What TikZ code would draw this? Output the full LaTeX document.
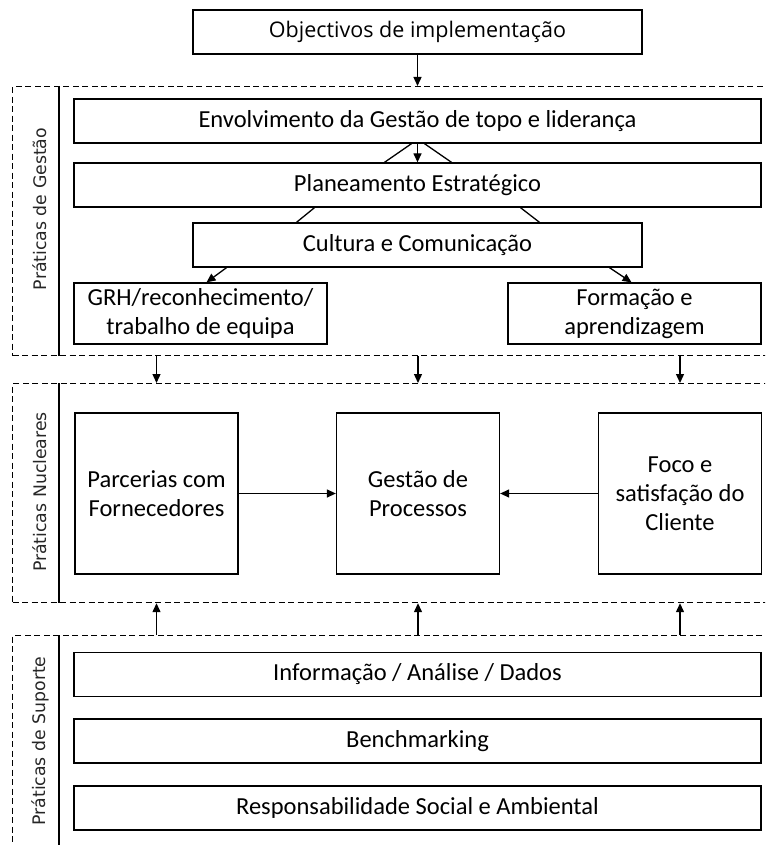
\documentclass[tikz,border=0pt]{standalone}
\usepackage{fontspec}
\setmainfont{Carlito}
\newfontfamily\topfont{Open Sans}
\newfontfamily\sidefont{DejaVu Sans}
\usetikzlibrary{arrows.meta,calc,positioning}
\tikzset{
    pq box/.style={
        draw,
        line width=1.3pt,
        fill=white,
        align=center,
        inner sep=2pt,
        font=\fontsize{24.5}{29}\selectfont
    },
    pq wide/.style={pq box, minimum width=687pt, minimum height=44pt},
    pq mid/.style={pq box, minimum width=449pt, minimum height=44pt},
    pq half/.style={pq box, minimum width=253pt, minimum height=61pt},
    pq core/.style={pq box, minimum width=163pt, minimum height=161pt},
    pq region/.style={
        draw,
        line width=1.2pt,
        dash pattern=on 6pt off 3.5pt,
        anchor=north west,
        minimum width=820pt,
        inner sep=0pt
    },
    pq side/.style={
        rotate=90,
        font=\sidefont\fontsize{17.3}{20}\selectfont,
        color=black!85
    },
    pq arrow/.style={-{Triangle[length=9pt,width=8pt]}, line width=1.3pt},
    pq line/.style={line width=1.3pt}
}

\begin{document}
\begin{tikzpicture}[x=1pt,y=-1pt]
    \useasboundingbox (0,0) rectangle (765,845);
    \clip (0,0) rectangle (765,845);

    % dashed groups
    \node[pq region, minimum height=269pt] (gestao) at (12,86) {};
    \node[pq region, minimum height=219pt] (nucl) at (12,383) {};
    \node[pq region, minimum height=240pt] (sup) at (12,635) {};
    \foreach \g in {gestao,nucl,sup} {
        \draw[pq line] ($(\g.north west)+(47,0)$) -- ($(\g.south west)+(47,0)$);
    }
    \node[pq side] (lgestao) at (40,209) {Práticas de Gestão};
    \node[pq side] (lnucl) at (40,492) {Práticas Nucleares};
    \node[pq side] (lsup) at (40,741) {Práticas de Suporte};

    \node[pq mid, font=\topfont\fontsize{21.5}{25}\selectfont] (obj) at (417.5,32) {Objectivos de implementação};

    % gestao
    \node[pq wide] (env) at (417.5,121) {Envolvimento da Gestão de topo e liderança};
    \node[pq wide] (plan) at (417.5,185) {Planeamento Estratégico};
    \node[pq mid] (cult) at (417.5,245) {Cultura e Comunicação};
    \node[pq half] (grh) at (200.5,313.5) {GRH/reconhecimento/\\trabalho de equipa};
    \node[pq half] (form) at (634.5,313.5) {Formação e\\aprendizagem};

    % nucleares
    \node[pq core] (parc) at (156.5,493.5) {Parcerias com\\Fornecedores};
    \node[pq core] (proc) at (418,493.5) {Gestão de\\Processos};
    \node[pq core] (foco) at (680,493.5) {Foco e\\satisfação do\\Cliente};

    % suporte
    \node[pq wide] (info) at (417.5,674.5) {Informação / Análise / Dados};
    \node[pq wide] (bench) at (417.5,741) {Benchmarking};
    \node[pq wide] (resp) at (417.5,808) {Responsabilidade Social e Ambiental};

    \draw[pq arrow] (obj.south) -- (obj.south |- gestao.north);

    \draw[pq arrow] (env.south) -- (env.south |- plan.north);
    \draw[pq line] ($(env.south)+(-6,0)$) -- ($(plan.north)+(-33,0)$);
    \draw[pq line] ($(env.south)+(7,0)$) -- ($(plan.north)+(34,0)$);
    \draw[pq line] ($(plan.south)+(-103,0)$) -- ($(cult.north)+(-121,0)$);
    \draw[pq line] ($(plan.south)+(103,0)$) -- ($(cult.north)+(122,0)$);
    \draw[pq arrow] ($(cult.south)+(-191,0)$) -- ($(grh.north)+(6,0)$);
    \draw[pq arrow] ($(cult.south)+(192,0)$) -- ($(form.north)+(-3,0)$);

    \foreach \n in {parc,proc,foco} {
        \draw[pq arrow] (\n |- gestao.south) -- (\n |- nucl.north);
        \draw[pq arrow] (\n |- sup.north) -- (\n |- nucl.south);
    }

    \draw[pq arrow] (parc.east) -- (proc.west);
    \draw[pq arrow] (foco.west) -- (proc.east);
\end{tikzpicture}
\end{document}
